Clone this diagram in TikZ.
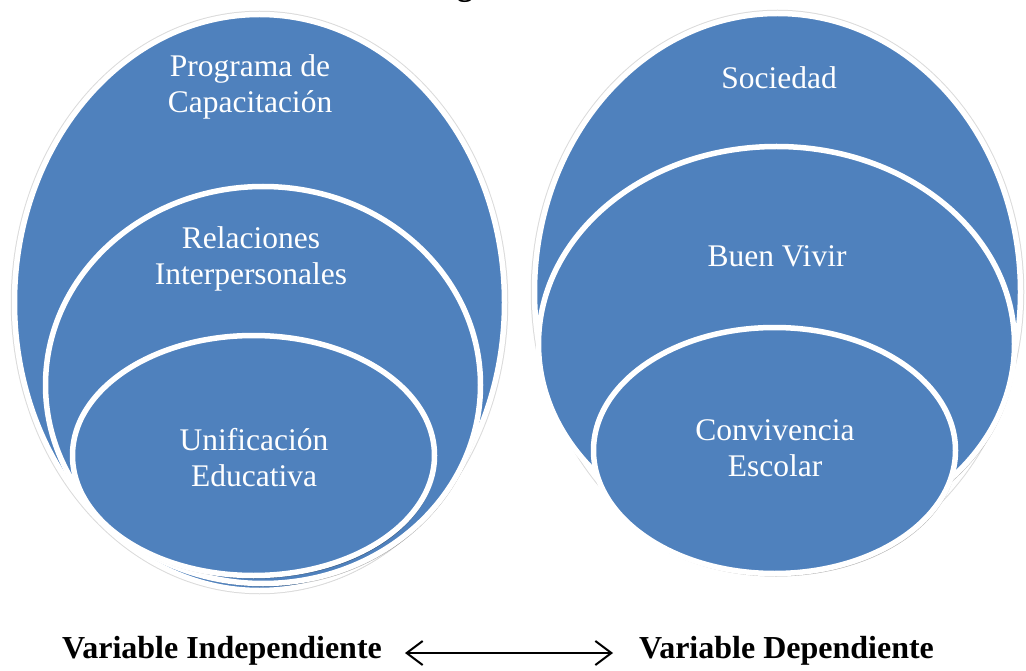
\documentclass[tikz,border=0pt]{standalone}
\usepackage{fontspec}
\setmainfont{Liberation Serif}
\usetikzlibrary{shapes.geometric,shadows,arrows.meta}
\definecolor{sablue}{HTML}{4F81BD}
\begin{document}
\begin{tikzpicture}[x=1pt,y=-1pt,
  venn/.style={ellipse, draw=white, line width=5.5pt, fill=sablue, inner sep=0pt,
    drop shadow={shadow xshift=1.5pt, shadow yshift=-3pt, fill=black, opacity=0.3}},
  outerring/.style={preaction={draw=black!14, line width=7.5pt}},
  lbl/.style={text=white, font=\fontsize{31.5}{36}\selectfont, align=center, anchor=base, inner sep=0pt},
  varlbl/.style={font=\bfseries\fontsize{32}{36}\selectfont, anchor=base, inner sep=0pt},
  biarrow/.style={{Straight Barb[length=16pt,width=24pt]}-{Straight Barb[length=16pt,width=24pt]}, line width=2pt}]
\useasboundingbox (0,0) rectangle (1026,671);
% cut-off title fragment
\node[varlbl] (title) at (465,-4.5) {g};
% left group
\node[venn, outerring, minimum width=490pt, minimum height=576pt] (L1) at (259.5,302.5) {};
\node[venn, minimum width=435pt, minimum height=397pt] (L2) at (263,385) {};
\node[venn, minimum width=362pt, minimum height=240pt] (L3) at (253.5,455.5) {};
\node[lbl] (t1) at (250,113) {Programa de\\Capacitación};
\node[lbl] (t2) at (251,285) {Relaciones\\Interpersonales};
\node[lbl] (t3) at (254,486) {Unificación\\Educativa};
% right group
\node[venn, outerring, minimum width=486pt, minimum height=557pt] (R1) at (777.5,292) {};
\node[venn, minimum width=476pt, minimum height=395pt] (R2) at (776.5,344) {};
\node[venn, minimum width=362pt, minimum height=246pt] (R3) at (774.5,450.5) {};
\node[lbl] (s1) at (779,89) {Sociedad};
\node[lbl] (s2) at (777,267) {Buen Vivir};
\node[lbl] (s3) at (775,476.5) {Convivencia\\Escolar};
% bottom labels
\node[varlbl] (vi) at (222,658) {Variable Independiente};
\node[varlbl] (vd) at (786.5,658) {Variable Dependiente};
\coordinate (al) at (405,653);
\coordinate (ar) at (613,653);
\draw[biarrow] (al) -- (ar);
\end{tikzpicture}
\end{document}
